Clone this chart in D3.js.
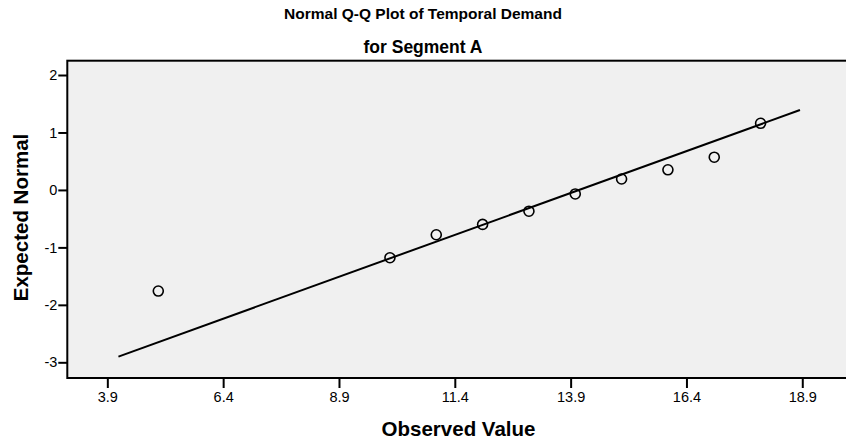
<!DOCTYPE html>
<html><head><meta charset="utf-8">
<script src="https://cdn.jsdelivr.net/npm/d3@7"></script>
<style>
html,body{margin:0;padding:0;background:#fff;}
svg{display:block;}
text{font-family:"Liberation Sans",Arial,sans-serif;fill:#000;}
</style></head>
<body><svg id="c" width="846" height="445"></svg>
<script>
// ---- data ----
const observed = [5, 10, 11, 12, 13, 14, 15, 16, 17, 18];
const expectedNormal = [-1.76, -1.18, -0.78, -0.60, -0.37, -0.07, 0.19, 0.35, 0.57, 1.16];
const refLineX = [4.14, 18.85];
const refLineY = [-2.90, 1.39];
const xTicks = [3.9, 6.4, 8.9, 11.4, 13.9, 16.4, 18.9];
const yTicks = [-3, -2, -1, 0, 1, 2];
const titleLines = ["Normal Q-Q Plot of Temporal Demand", "for Segment A"];
const xLabel = "Observed Value";
const yLabel = "Expected Normal";

// ---- layout ----
const W = 846, H = 445;
const L = 67.3, T = 60.7, R = 850, B = 378;
const svg = d3.select("#c");

const x = d3.scaleLinear().domain([3.036, 19.93]).range([L, R]);
const y = d3.scaleLinear().domain([-3.273, 2.249]).range([B, T]);

// plot background
svg.append("rect").attr("x", L).attr("y", T).attr("width", R - L).attr("height", B - T)
  .attr("fill", "#f0f0f0");

// axes
const xa = svg.append("g").attr("transform", `translate(0,${B})`)
  .call(d3.axisBottom(x).tickValues(xTicks).tickSize(10).tickPadding(4).tickFormat(d3.format(".1f")));
xa.select(".domain").remove();
xa.selectAll(".tick line").attr("stroke", "#000").attr("stroke-width", 2);
xa.selectAll(".tick text").attr("font-size", "14.5px").attr("font-family", "Liberation Sans, Arial, sans-serif");

const ya = svg.append("g").attr("transform", `translate(${L},0)`)
  .call(d3.axisLeft(y).tickValues(yTicks).tickSize(9).tickPadding(1).tickFormat(d3.format("d")));
ya.select(".domain").remove();
ya.selectAll(".tick line").attr("stroke", "#000").attr("stroke-width", 2);
ya.selectAll(".tick text").attr("font-size", "14.5px").attr("font-family", "Liberation Sans, Arial, sans-serif")
  .text(d => d < 0 ? "-" + Math.abs(d) : d);

// reference line
svg.append("line")
  .attr("x1", x(refLineX[0])).attr("y1", y(refLineY[0]))
  .attr("x2", x(refLineX[1])).attr("y2", y(refLineY[1]))
  .attr("stroke", "#000").attr("stroke-width", 2);

// points
svg.append("g").selectAll("circle").data(observed).join("circle")
  .attr("cx", d => x(d)).attr("cy", (d, i) => y(expectedNormal[i]))
  .attr("r", 5).attr("fill", "none").attr("stroke", "#000").attr("stroke-width", 1.6);

// border
svg.append("rect").attr("x", L).attr("y", T).attr("width", R - L).attr("height", B - T)
  .attr("fill", "none").attr("stroke", "#000").attr("stroke-width", 2);

// titles
svg.append("text").attr("x", W / 2).attr("y", 19).attr("text-anchor", "middle")
  .attr("font-weight", "bold").attr("font-size", "15.5px").text(titleLines[0]);
svg.append("text").attr("x", W / 2).attr("y", 53).attr("text-anchor", "middle")
  .attr("font-weight", "bold").attr("font-size", "17.5px").text(titleLines[1]);

// axis titles
svg.append("text").attr("x", 458.5).attr("y", 436).attr("text-anchor", "middle")
  .attr("font-weight", "bold").attr("font-size", "20.5px").text(xLabel);
svg.append("text").attr("transform", `translate(27.5,217.5) rotate(-90)`).attr("text-anchor", "middle")
  .attr("font-weight", "bold").attr("font-size", "20.5px").text(yLabel);
</script></body></html>
